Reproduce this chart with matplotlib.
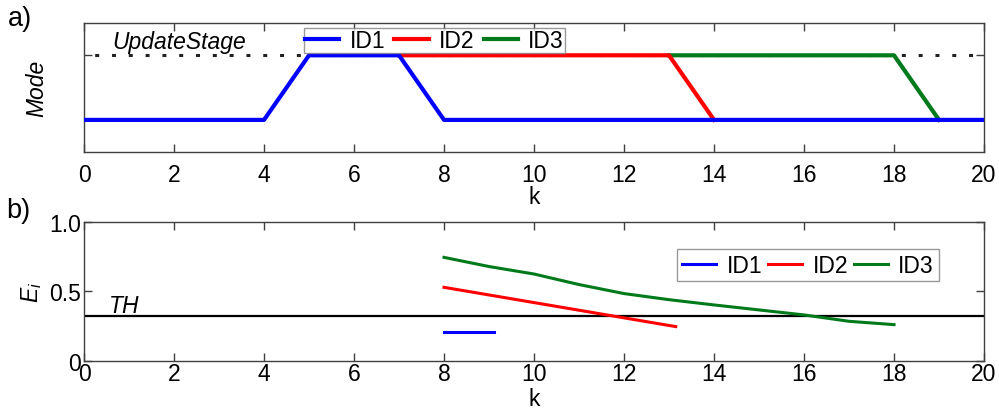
import numpy as np
import matplotlib
matplotlib.use("Agg")
import matplotlib.pyplot as plt

plt.rcParams['font.family'] = ['Liberation Sans', 'DejaVu Sans']
plt.rcParams['mathtext.fontset'] = 'custom'
plt.rcParams['mathtext.it'] = 'Liberation Sans:italic'
plt.rcParams['mathtext.rm'] = 'Liberation Sans'

# mode of each node over time (0 = normal, 1 = update stage)
k_id1 = [0, 4, 5, 7, 8, 20]
mode_id1 = [0, 0, 1, 1, 0, 0]
k_id2 = [7, 13, 14]
mode_id2 = [1, 1, 0]
k_id3 = [13, 18, 19]
mode_id3 = [1, 1, 0]

# error estimate E_i per node
k_e1 = [8, 9.1]
e_id1 = [0.21, 0.21]
k_e2 = [8, 9, 10, 11, 12, 13, 13.15]
e_id2 = [0.53, 0.475, 0.42, 0.365, 0.31, 0.255, 0.247]
k_e3 = [8, 9, 10, 11, 12, 13, 14, 15, 16, 17, 18]
e_id3 = [0.746, 0.68, 0.626, 0.55, 0.485, 0.441, 0.403, 0.367, 0.331, 0.285, 0.261]
threshold = 0.32

blue, red, green = '#0000ff', '#ff0000', '#007a1a'
spine_col = '#404040'
fs = 16.5

fig = plt.figure(figsize=(9.99, 4.14), dpi=100)
ax1 = fig.add_axes([0.0841, 0.630, 0.9009, 0.312])
ax2 = fig.add_axes([0.0841, 0.126, 0.9009, 0.335])

leg_kw = dict(ncol=3, fontsize=fs, loc='upper left', frameon=True, fancybox=False,
              edgecolor='#808080', handlelength=1.5, handletextpad=0.45,
              borderaxespad=0)

# --- a) mode ---
ax1.plot([0, 20], [1, 1], color='#222222', lw=2.2, linestyle=(2, (1.3, 4.2)), zorder=1)
ax1.plot(k_id3, mode_id3, color=green, lw=3, label='ID3', zorder=2)
ax1.plot(k_id2, mode_id2, color=red, lw=3, label='ID2', zorder=3)
ax1.plot(k_id1, mode_id1, color=blue, lw=3, label='ID1', zorder=4)
ax1.set_xlim(0, 20)
ax1.set_ylim(-0.5, 1.5)
ax1.set_xticks(np.arange(0, 21, 2))
ax1.set_yticks([0, 1])
ax1.set_yticklabels([])
ax1.set_xlabel('k', fontsize=fs, labelpad=-1)
ax1.set_ylabel('Mode', fontsize=fs, style='italic', labelpad=24)
ax1.text(0.62, 1.215, 'UpdateStage', fontsize=fs, style='italic', va='center')
h, l = ax1.get_legend_handles_labels()
leg1 = ax1.legend(h[::-1], l[::-1], bbox_to_anchor=(0.244, 0.961),
                  borderpad=0.05, columnspacing=0.4, **leg_kw)
leg1.get_frame().set_linewidth(1)

# --- b) error vs threshold ---
ax2.axhline(threshold, color='black', lw=1.6, zorder=1)
ax2.plot(k_e1, e_id1, color=blue, lw=2.2, label='ID1', zorder=2)
ax2.plot(k_e2, e_id2, color=red, lw=2.2, label='ID2', zorder=2)
ax2.plot(k_e3, e_id3, color=green, lw=2.2, label='ID3', zorder=2)
ax2.text(0.55, 0.40, 'TH', fontsize=fs, style='italic', va='center')
ax2.set_xlim(0, 20)
ax2.set_ylim(0, 1.0)
ax2.set_xticks(np.arange(0, 21, 2))
ax2.set_yticks([0, 0.5, 1.0])
ax2.set_yticklabels(['0', '0.5', '1.0'])
ax2.set_xlabel('k', fontsize=fs, labelpad=1)
ax2.set_ylabel('$E_i$', fontsize=fs, labelpad=4)
leg2 = ax2.legend(bbox_to_anchor=(0.659, 0.806), borderpad=0.2,
                  columnspacing=0.25, **leg_kw)
leg2.get_frame().set_linewidth(1)

for ax in (ax1, ax2):
    for s in ax.spines.values():
        s.set_color(spine_col)
        s.set_linewidth(1)
    ax.tick_params(direction='in', length=6, width=1, color=spine_col,
                   labelsize=fs, top=True, right=True, pad=2)
ax1.tick_params(axis='x', pad=8)
ax2.tick_params(axis='x', pad=1)

fig.text(0.008, 0.955, 'a)', fontsize=fs + 3, va='center')
fig.text(0.006, 0.49, 'b)', fontsize=fs + 3, va='center')

fig.savefig('out.png', dpi=100)
